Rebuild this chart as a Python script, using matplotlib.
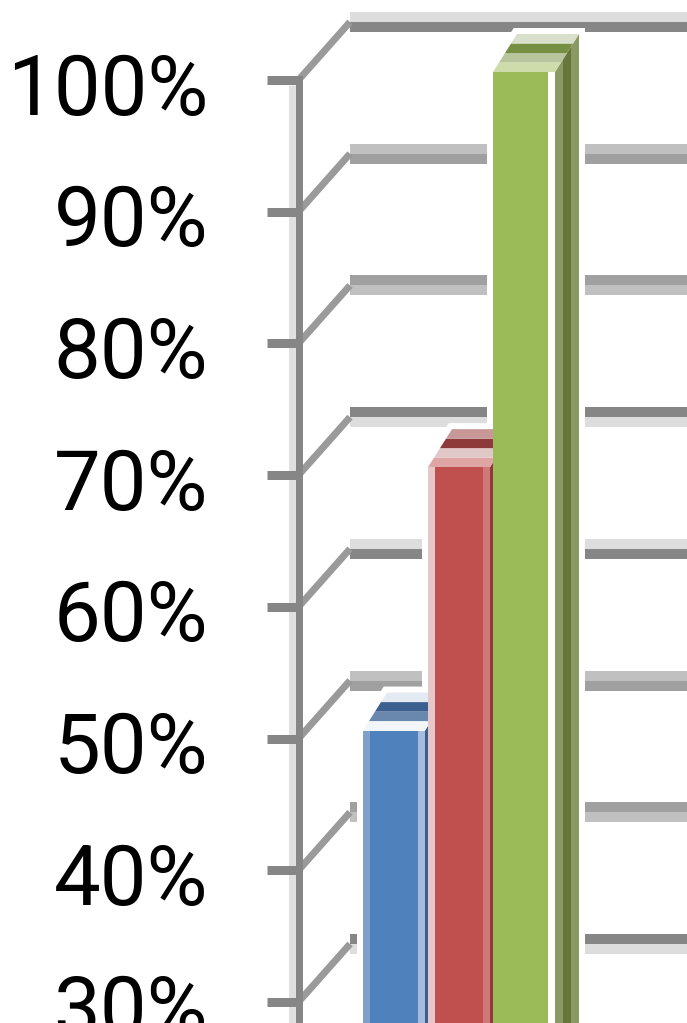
import matplotlib
matplotlib.use("Agg")
import matplotlib.pyplot as plt
from matplotlib.patches import Polygon, Rectangle

# data (the crop shows only the value axis and three bars)
series = ["Series 1", "Series 2", "Series 3"]
values = [50, 70, 100]
tick_values = [30, 40, 50, 60, 70, 80, 90, 100]
tick_labels = ["30%", "40%", "50%", "60%", "70%", "80%", "90%", "100%"]

front_colors = ["#4f81bd", "#c0504d", "#9bbb59"]
edge_colors = [("#7fa0cc", "#a5bcdc"), ("#e6c8c8", "#d07878"), ("#9bbb59", "#ffffff")]
top_colors = [["#f2f5f9", "#6a88ae", "#3b6090", "#e4eaf2"],
              ["#dfa5a5", "#e0c8c8", "#8f3a3a", "#c89898"],
              ["#cddcaa", "#b8c49c", "#778f42", "#d8e0cc"]]
side_colors = [["#3b6090"] * 3, ["#8f3a3a"] * 3, ["#8a9a62", "#65773a", "#8a9a62"]]

# pixel scale of the picture: 65 px per category, 13.17 px per percent
PXX = 1 / 65.0
PXY = 1 / 13.17
LW = 0.72  # points per pixel at dpi 100

bar_w = 62 * PXX
strip = 7 * PXX
front_dy = 8 * PXY
bar_dx, bar_dy = 24 * PXX, 38 * PXY
wall_x = (350 - 394) * PXX
wall_dy = 58 * PXY
axis_x = (298.5 - 394) * PXX
label_x = (208 - 394) * PXX

fig = plt.figure(figsize=(6.87, 10.23), dpi=100)
ax = fig.add_axes([0, 0, 1, 1])
ax.axis("off")
x_lo, x_hi = -394 * PXX, 293 * PXX
ax.set_xlim(x_lo, x_hi)
ax.set_ylim(30 - 21 * PXY, 100 + 80 * PXY)

# back wall gridlines (two-tone like the upscaled original) and side wall diagonals
tones = [("#868686", "#dddddd"), ("#a0a0a0", "#c0c0c0"), ("#c0c0c0", "#a0a0a0"),
         ("#dddddd", "#868686")]
for k, t in enumerate(tick_values):
    top_c, bot_c = tones[k % 4]
    yg = t + wall_dy
    ax.plot([wall_x, x_hi], [yg + 5 * PXY] * 2, color=top_c, lw=10 * LW,
            solid_capstyle="butt", zorder=1)
    ax.plot([wall_x, x_hi], [yg - 5 * PXY] * 2, color=bot_c, lw=10 * LW,
            solid_capstyle="butt", zorder=1)
    ax.plot([axis_x, wall_x], [t, yg], color="#9a9a9a", lw=7 * LW,
            solid_capstyle="butt", zorder=1)

# value axis with ticks and labels
ax.plot([axis_x - 7 * PXX] * 2, [0, 100 - 5 * PXY], color="#e0e0e0", lw=7 * LW,
        solid_capstyle="butt", zorder=1.5)
ax.plot([axis_x] * 2, [0, 100 + 4 * PXY], color="#868686", lw=7 * LW,
        solid_capstyle="butt", zorder=1.6)
for t, lab in zip(tick_values, tick_labels):
    ax.plot([(267 - 394) * PXX, axis_x + 3.5 * PXX], [t, t], color="#868686",
            lw=9 * LW, solid_capstyle="butt", zorder=1.6)
    ax.text(label_x, t - 3 * PXY, lab, ha="right", va="center_baseline",
            fontsize=60, family="Roboto", color="black")

# 3-D columns
for i, v in enumerate(values):
    x0, x1 = i - bar_w / 2, i + bar_w / 2
    yt = v + front_dy
    outline = [(x0, 0), (x0, yt), (x0 + bar_dx, yt + bar_dy), (x1 + bar_dx, yt + bar_dy),
               (x1 + bar_dx, bar_dy), (x1, 0)]
    ax.add_patch(Polygon(outline, closed=True, facecolor="white", edgecolor="white",
                         lw=12 * LW, zorder=2))
    z = 3 + i
    n = len(side_colors[i])
    for k, c in enumerate(side_colors[i]):
        f0, f1 = k / n, (k + 1) / n
        ax.add_patch(Polygon([(x1 + f0 * bar_dx, f0 * bar_dy), (x1 + f0 * bar_dx, yt + f0 * bar_dy),
                              (x1 + f1 * bar_dx, yt + f1 * bar_dy), (x1 + f1 * bar_dx, f1 * bar_dy)],
                             closed=True, facecolor=c, edgecolor="none", zorder=z))
    n = len(top_colors[i])
    for k, c in enumerate(top_colors[i]):
        f0, f1 = k / n, (k + 1) / n
        ax.add_patch(Polygon([(x0 + f0 * bar_dx, yt + f0 * bar_dy), (x1 + f0 * bar_dx, yt + f0 * bar_dy),
                              (x1 + f1 * bar_dx, yt + f1 * bar_dy), (x0 + f1 * bar_dx, yt + f1 * bar_dy)],
                             closed=True, facecolor=c, edgecolor="none", zorder=z))
    ax.add_patch(Rectangle((x0, 0), bar_w, yt, facecolor=front_colors[i], edgecolor="none", zorder=z))
    ax.add_patch(Rectangle((x0, 0), strip, yt, facecolor=edge_colors[i][0], edgecolor="none", zorder=z))
    ax.add_patch(Rectangle((x1 - strip, 0), strip, yt, facecolor=edge_colors[i][1], edgecolor="none",
                           zorder=z))

fig.savefig("out.png", dpi=100)
